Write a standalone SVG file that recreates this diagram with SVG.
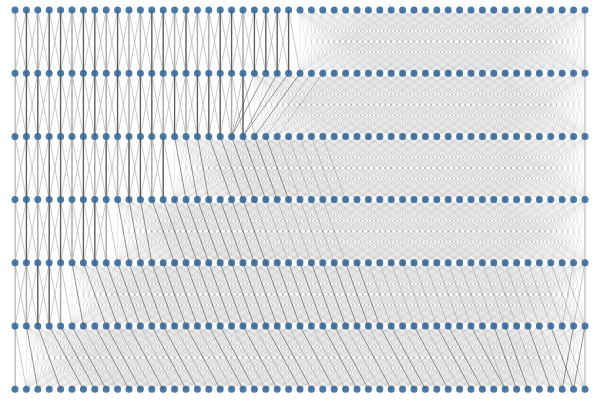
<svg xmlns="http://www.w3.org/2000/svg" width="600" height="400" viewBox="0 0 600 400">
<style>
.lt{fill:none;stroke:#888;stroke-opacity:.28;stroke-width:.6}
.sd{fill:none;stroke:#bbb;stroke-width:.8}
.sv{fill:none;stroke:#aaa;stroke-width:1.5}
.dv{fill:none;stroke:#555;stroke-width:1}
.dk{fill:none;stroke:#333;stroke-opacity:.6;stroke-width:.8}
.md{fill:none;stroke:#555;stroke-opacity:.35;stroke-width:.7}
.ev{fill:none;stroke:#ccc;stroke-width:1.5}
.nodes circle{fill:#33689a;fill-opacity:.88}
</style>
<defs>
<clipPath id="c5"><rect x="14.5" y="0" width="571" height="400"/></clipPath>
<path id="fp" class="lt" d="M0 0V63.2M0 0L11.4 63.2M0 0L22.8 63.2M0 0L34.2 63.2M0 0L45.6 63.2M0 0L57 63.2M0 0L68.4 63.2M0 0L79.8 63.2M0 0L91.2 63.2"/>
<path id="n1" class="lt" d="M0 0L-11.4 63.2"/>
<path id="n2" class="lt" d="M0 0L-11.4 63.2M0 0L-22.8 63.2"/>
<path id="n3" class="lt" d="M0 0L-11.4 63.2M0 0L-22.8 63.2M0 0L-34.2 63.2"/>
<path id="n4" class="lt" d="M0 0L-11.4 63.2M0 0L-22.8 63.2M0 0L-34.2 63.2M0 0L-45.6 63.2"/>
<path id="n5" class="lt" d="M0 0L-11.4 63.2M0 0L-22.8 63.2M0 0L-34.2 63.2M0 0L-45.6 63.2M0 0L-57 63.2"/>
<path id="n6" class="lt" d="M0 0L-11.4 63.2M0 0L-22.8 63.2M0 0L-34.2 63.2M0 0L-45.6 63.2M0 0L-57 63.2M0 0L-68.4 63.2"/>
<path id="n7" class="lt" d="M0 0L-11.4 63.2M0 0L-22.8 63.2M0 0L-34.2 63.2M0 0L-45.6 63.2M0 0L-57 63.2M0 0L-68.4 63.2M0 0L-79.8 63.2"/>
<path id="n8" class="lt" d="M0 0L-11.4 63.2M0 0L-22.8 63.2M0 0L-34.2 63.2M0 0L-45.6 63.2M0 0L-57 63.2M0 0L-68.4 63.2M0 0L-79.8 63.2M0 0L-91.2 63.2"/>
<g id="f"><use href="#fp"/><use href="#n8"/></g>
<g id="f5"><use href="#f"/><use href="#f" x="11.4"/><use href="#f" x="22.8"/><use href="#f" x="34.2"/><use href="#f" x="45.6"/></g>
<g id="f10"><use href="#f5"/><use href="#f5" x="57"/></g>
<g id="B"><use href="#fp"/><use href="#fp" x="11.4"/><use href="#n1" x="11.4"/><use href="#fp" x="22.8"/><use href="#n2" x="22.8"/><use href="#fp" x="34.2"/><use href="#n3" x="34.2"/><use href="#fp" x="45.6"/><use href="#n4" x="45.6"/><use href="#fp" x="57"/><use href="#n5" x="57"/><use href="#fp" x="68.4"/><use href="#n6" x="68.4"/><use href="#fp" x="79.8"/><use href="#n7" x="79.8"/></g>
<g id="s"><path class="sd" d="M0 0L-11.4 63.2M0 0L11.4 63.2"/><path class="sv" d="M0 0V63.2"/></g>
<g id="s5"><use href="#s"/><use href="#s" x="11.4"/><use href="#s" x="22.8"/><use href="#s" x="34.2"/><use href="#s" x="45.6"/></g>
<g id="s10"><use href="#s5"/><use href="#s5" x="57"/></g>
</defs>
<rect width="600" height="400" fill="#fff"/>
<g id="connectors">
<g id="sparse" clip-path="url(#c5)">
<use href="#s10" x="15" y="10"/><use href="#s10" x="129" y="10"/><use href="#s5" x="243" y="10"/>
<use href="#s10" x="15" y="73.2"/><use href="#s10" x="129" y="73.2"/><use href="#s" x="243" y="73.2"/>
<use href="#s10" x="15" y="136.4"/><use href="#s" x="129" y="136.4"/><use href="#s" x="140.4" y="136.4"/><use href="#s" x="151.8" y="136.4"/><use href="#s" x="163.2" y="136.4"/>
<use href="#s5" x="15" y="199.6"/><use href="#s" x="72" y="199.6"/><use href="#s" x="83.4" y="199.6"/><use href="#s" x="94.8" y="199.6"/><use href="#s" x="106.2" y="199.6"/>
<use href="#s5" x="15" y="262.8"/>
<use href="#s" x="15" y="326"/>
</g>
<path class="dv" d="M26.4 10V73.2M49.2 10V73.2M60.6 10V73.2M83.4 10V73.2M94.8 10V73.2M117.6 10V73.2M151.8 10V73.2M163.2 10V73.2M186 10V73.2M220.2 10V73.2M231.6 10V73.2M254.4 10V73.2M265.8 10V73.2M277.2 10V73.2M288.6 10V73.2M26.4 73.2V136.4M37.8 73.2V136.4M60.6 73.2V136.4M83.4 73.2V136.4M94.8 73.2V136.4M117.6 73.2V136.4M140.4 73.2V136.4M151.8 73.2V136.4M174.6 73.2V136.4M197.4 73.2V136.4M208.8 73.2V136.4M220.2 73.2V136.4M243 73.2V136.4M26.4 136.4V199.6M49.2 136.4V199.6M60.6 136.4V199.6M83.4 136.4V199.6M106.2 136.4V199.6M129 136.4V199.6M140.4 136.4V199.6M163.2 136.4V199.6M26.4 199.6V262.8M49.2 199.6V262.8M60.6 199.6V262.8M83.4 199.6V262.8M94.8 199.6V262.8M37.8 262.8V326M49.2 262.8V326"/>
<g id="dense0"><use href="#B" x="300" y="10"/><use href="#f10" x="391.2" y="10"/><use href="#B" transform="translate(585 10) scale(-1 1)"/></g>
<g id="dense1"><use href="#B" x="254.4" y="73.2"/><use href="#f10" x="345.6" y="73.2"/><use href="#f" x="459.6" y="73.2"/><use href="#f" x="471" y="73.2"/><use href="#f" x="482.4" y="73.2"/><use href="#f" x="493.8" y="73.2"/><use href="#B" transform="translate(585 73.2) scale(-1 1)"/></g>
<g id="dense2"><use href="#B" x="174.6" y="136.4"/><use href="#f10" x="265.8" y="136.4"/><use href="#f10" x="379.8" y="136.4"/><use href="#f" x="493.8" y="136.4"/><use href="#B" transform="translate(585 136.4) scale(-1 1)"/></g>
<g id="dense3"><use href="#B" x="117.6" y="199.6"/><use href="#f10" x="208.8" y="199.6"/><use href="#f10" x="322.8" y="199.6"/><use href="#f5" x="436.8" y="199.6"/><use href="#f" x="493.8" y="199.6"/><use href="#B" transform="translate(585 199.6) scale(-1 1)"/></g>
<g id="dense4"><use href="#B" x="72" y="262.8"/><use href="#f10" x="163.2" y="262.8"/><use href="#f10" x="277.2" y="262.8"/><use href="#f10" x="391.2" y="262.8"/><use href="#B" transform="translate(585 262.8) scale(-1 1)"/></g>
<g id="dense5"><use href="#B" x="26.4" y="326"/><use href="#f10" x="117.6" y="326"/><use href="#f10" x="231.6" y="326"/><use href="#f10" x="345.6" y="326"/><use href="#f" x="459.6" y="326"/><use href="#f" x="471" y="326"/><use href="#f" x="482.4" y="326"/><use href="#f" x="493.8" y="326"/><use href="#B" transform="translate(585 326) scale(-1 1)"/></g>
<path class="ev" d="M585 10V389.2"/>
<path class="dk" d="M254.4 73.2L231.6 136.4M265.8 73.2L231.6 136.4M277.2 73.2L243 136.4M288.6 73.2L243 136.4M300 73.2L254.4 136.4"/>
<path class="md" d="M311.4 73.2L265.8 136.4M322.8 73.2L277.2 136.4"/>
<path class="dk" d="M174.6 136.4l11.4 63.2M186 136.4l11.4 63.2M197.4 136.4l11.4 63.2M208.8 136.4l22.8 63.2M220.2 136.4l22.8 63.2M231.6 136.4l22.8 63.2M243 136.4l22.8 63.2M254.4 136.4l22.8 63.2M265.8 136.4l22.8 63.2"/>
<path class="md" d="M277.2 136.4l22.8 63.2M288.6 136.4l22.8 63.2M300 136.4l22.8 63.2M311.4 136.4l22.8 63.2M322.8 136.4l22.8 63.2"/>
<path class="dk" d="M117.6 199.6l11.4 63.2M129 199.6l11.4 63.2M140.4 199.6l11.4 63.2M151.8 199.6l22.8 63.2M163.2 199.6l22.8 63.2M174.6 199.6l22.8 63.2M186 199.6l22.8 63.2M197.4 199.6l22.8 63.2M208.8 199.6l22.8 63.2M220.2 199.6l22.8 63.2M231.6 199.6l22.8 63.2M243 199.6l22.8 63.2"/>
<path class="md" d="M254.4 199.6l22.8 63.2M265.8 199.6l22.8 63.2M277.2 199.6l22.8 63.2M288.6 199.6l22.8 63.2M300 199.6l22.8 63.2M311.4 199.6l22.8 63.2M322.8 199.6l22.8 63.2"/>
<path class="dk" d="M72 262.8l11.4 63.2M83.4 262.8l22.8 63.2M94.8 262.8l22.8 63.2M106.2 262.8l22.8 63.2M117.6 262.8l22.8 63.2M129 262.8l22.8 63.2M140.4 262.8l22.8 63.2M151.8 262.8l22.8 63.2M163.2 262.8l22.8 63.2M174.6 262.8l22.8 63.2M186 262.8l22.8 63.2M197.4 262.8l22.8 63.2M208.8 262.8l22.8 63.2M220.2 262.8l22.8 63.2M231.6 262.8l22.8 63.2M243 262.8l22.8 63.2M254.4 262.8l22.8 63.2M265.8 262.8l22.8 63.2M277.2 262.8l22.8 63.2M288.6 262.8l22.8 63.2M300 262.8l22.8 63.2M311.4 262.8l22.8 63.2M322.8 262.8l22.8 63.2M334.2 262.8l22.8 63.2M345.6 262.8l22.8 63.2M357 262.8l22.8 63.2"/>
<path class="md" d="M368.4 262.8l22.8 63.2M379.8 262.8l22.8 63.2M391.2 262.8l22.8 63.2M402.6 262.8l22.8 63.2M414 262.8l22.8 63.2M425.4 262.8l22.8 63.2M436.8 262.8l22.8 63.2M448.2 262.8l22.8 63.2M459.6 262.8l22.8 63.2M471 262.8l22.8 63.2M482.4 262.8l22.8 63.2M493.8 262.8l22.8 63.2M505.2 262.8l22.8 63.2M516.6 262.8l22.8 63.2M528 262.8l22.8 63.2M539.4 262.8l22.8 63.2M550.8 262.8l22.8 63.2M562.2 262.8l22.8 63.2M573.6 262.8l-11.4 63.2M585 262.8l-11.4 63.2"/>
<path class="dk" d="M26.4 326l11.4 63.2M37.8 326l22.8 63.2M49.2 326l34.2 63.2M60.6 326l34.2 63.2M72 326l34.2 63.2M94.8 326l34.2 63.2M106.2 326l34.2 63.2M129 326l34.2 63.2M151.8 326l34.2 63.2M163.2 326l34.2 63.2M186 326l34.2 63.2M208.8 326l34.2 63.2M220.2 326l34.2 63.2M243 326l34.2 63.2M265.8 326l34.2 63.2M277.2 326l34.2 63.2M300 326l34.2 63.2M322.8 326l34.2 63.2M334.2 326l34.2 63.2M357 326l34.2 63.2M379.8 326l34.2 63.2M391.2 326l34.2 63.2M414 326l34.2 63.2M436.8 326l34.2 63.2M448.2 326l34.2 63.2M471 326l34.2 63.2M493.8 326l22.8 63.2M505.2 326l22.8 63.2M528 326l22.8 63.2M550.8 326l22.8 63.2M573.6 326l-11.4 63.2M585 326l-11.4 63.2"/>
<path class="md" d="M83.4 326l34.2 63.2M117.6 326l34.2 63.2M140.4 326l34.2 63.2M174.6 326l34.2 63.2M197.4 326l34.2 63.2M231.6 326l34.2 63.2M254.4 326l34.2 63.2M288.6 326l34.2 63.2M311.4 326l34.2 63.2M345.6 326l34.2 63.2M368.4 326l34.2 63.2M402.6 326l34.2 63.2M425.4 326l34.2 63.2M459.6 326l34.2 63.2M482.4 326l22.8 63.2M516.6 326l22.8 63.2M539.4 326l22.8 63.2M562.2 326l22.8 63.2"/>
</g>
<g class="nodes">
<g id="row0" transform="translate(0 10)"><g id="n0-0"><circle cx="15" r="3.5"/></g><g id="n0-1"><circle cx="26.4" r="3.5"/></g><g id="n0-2"><circle cx="37.8" r="3.5"/></g><g id="n0-3"><circle cx="49.2" r="3.5"/></g><g id="n0-4"><circle cx="60.6" r="3.5"/></g><g id="n0-5"><circle cx="72" r="3.5"/></g><g id="n0-6"><circle cx="83.4" r="3.5"/></g><g id="n0-7"><circle cx="94.8" r="3.5"/></g><g id="n0-8"><circle cx="106.2" r="3.5"/></g><g id="n0-9"><circle cx="117.6" r="3.5"/></g><g id="n0-10"><circle cx="129" r="3.5"/></g><g id="n0-11"><circle cx="140.4" r="3.5"/></g><g id="n0-12"><circle cx="151.8" r="3.5"/></g><g id="n0-13"><circle cx="163.2" r="3.5"/></g><g id="n0-14"><circle cx="174.6" r="3.5"/></g><g id="n0-15"><circle cx="186" r="3.5"/></g><g id="n0-16"><circle cx="197.4" r="3.5"/></g><g id="n0-17"><circle cx="208.8" r="3.5"/></g><g id="n0-18"><circle cx="220.2" r="3.5"/></g><g id="n0-19"><circle cx="231.6" r="3.5"/></g><g id="n0-20"><circle cx="243" r="3.5"/></g><g id="n0-21"><circle cx="254.4" r="3.5"/></g><g id="n0-22"><circle cx="265.8" r="3.5"/></g><g id="n0-23"><circle cx="277.2" r="3.5"/></g><g id="n0-24"><circle cx="288.6" r="3.5"/></g><g id="n0-25"><circle cx="300" r="3.5"/></g><g id="n0-26"><circle cx="311.4" r="3.5"/></g><g id="n0-27"><circle cx="322.8" r="3.5"/></g><g id="n0-28"><circle cx="334.2" r="3.5"/></g><g id="n0-29"><circle cx="345.6" r="3.5"/></g><g id="n0-30"><circle cx="357" r="3.5"/></g><g id="n0-31"><circle cx="368.4" r="3.5"/></g><g id="n0-32"><circle cx="379.8" r="3.5"/></g><g id="n0-33"><circle cx="391.2" r="3.5"/></g><g id="n0-34"><circle cx="402.6" r="3.5"/></g><g id="n0-35"><circle cx="414" r="3.5"/></g><g id="n0-36"><circle cx="425.4" r="3.5"/></g><g id="n0-37"><circle cx="436.8" r="3.5"/></g><g id="n0-38"><circle cx="448.2" r="3.5"/></g><g id="n0-39"><circle cx="459.6" r="3.5"/></g><g id="n0-40"><circle cx="471" r="3.5"/></g><g id="n0-41"><circle cx="482.4" r="3.5"/></g><g id="n0-42"><circle cx="493.8" r="3.5"/></g><g id="n0-43"><circle cx="505.2" r="3.5"/></g><g id="n0-44"><circle cx="516.6" r="3.5"/></g><g id="n0-45"><circle cx="528" r="3.5"/></g><g id="n0-46"><circle cx="539.4" r="3.5"/></g><g id="n0-47"><circle cx="550.8" r="3.5"/></g><g id="n0-48"><circle cx="562.2" r="3.5"/></g><g id="n0-49"><circle cx="573.6" r="3.5"/></g><g id="n0-50"><circle cx="585" r="3.5"/></g></g>
<g id="row1" transform="translate(0 73.2)"><g id="n1-0"><circle cx="15" r="3.5"/></g><g id="n1-1"><circle cx="26.4" r="3.5"/></g><g id="n1-2"><circle cx="37.8" r="3.5"/></g><g id="n1-3"><circle cx="49.2" r="3.5"/></g><g id="n1-4"><circle cx="60.6" r="3.5"/></g><g id="n1-5"><circle cx="72" r="3.5"/></g><g id="n1-6"><circle cx="83.4" r="3.5"/></g><g id="n1-7"><circle cx="94.8" r="3.5"/></g><g id="n1-8"><circle cx="106.2" r="3.5"/></g><g id="n1-9"><circle cx="117.6" r="3.5"/></g><g id="n1-10"><circle cx="129" r="3.5"/></g><g id="n1-11"><circle cx="140.4" r="3.5"/></g><g id="n1-12"><circle cx="151.8" r="3.5"/></g><g id="n1-13"><circle cx="163.2" r="3.5"/></g><g id="n1-14"><circle cx="174.6" r="3.5"/></g><g id="n1-15"><circle cx="186" r="3.5"/></g><g id="n1-16"><circle cx="197.4" r="3.5"/></g><g id="n1-17"><circle cx="208.8" r="3.5"/></g><g id="n1-18"><circle cx="220.2" r="3.5"/></g><g id="n1-19"><circle cx="231.6" r="3.5"/></g><g id="n1-20"><circle cx="243" r="3.5"/></g><g id="n1-21"><circle cx="254.4" r="3.5"/></g><g id="n1-22"><circle cx="265.8" r="3.5"/></g><g id="n1-23"><circle cx="277.2" r="3.5"/></g><g id="n1-24"><circle cx="288.6" r="3.5"/></g><g id="n1-25"><circle cx="300" r="3.5"/></g><g id="n1-26"><circle cx="311.4" r="3.5"/></g><g id="n1-27"><circle cx="322.8" r="3.5"/></g><g id="n1-28"><circle cx="334.2" r="3.5"/></g><g id="n1-29"><circle cx="345.6" r="3.5"/></g><g id="n1-30"><circle cx="357" r="3.5"/></g><g id="n1-31"><circle cx="368.4" r="3.5"/></g><g id="n1-32"><circle cx="379.8" r="3.5"/></g><g id="n1-33"><circle cx="391.2" r="3.5"/></g><g id="n1-34"><circle cx="402.6" r="3.5"/></g><g id="n1-35"><circle cx="414" r="3.5"/></g><g id="n1-36"><circle cx="425.4" r="3.5"/></g><g id="n1-37"><circle cx="436.8" r="3.5"/></g><g id="n1-38"><circle cx="448.2" r="3.5"/></g><g id="n1-39"><circle cx="459.6" r="3.5"/></g><g id="n1-40"><circle cx="471" r="3.5"/></g><g id="n1-41"><circle cx="482.4" r="3.5"/></g><g id="n1-42"><circle cx="493.8" r="3.5"/></g><g id="n1-43"><circle cx="505.2" r="3.5"/></g><g id="n1-44"><circle cx="516.6" r="3.5"/></g><g id="n1-45"><circle cx="528" r="3.5"/></g><g id="n1-46"><circle cx="539.4" r="3.5"/></g><g id="n1-47"><circle cx="550.8" r="3.5"/></g><g id="n1-48"><circle cx="562.2" r="3.5"/></g><g id="n1-49"><circle cx="573.6" r="3.5"/></g><g id="n1-50"><circle cx="585" r="3.5"/></g></g>
<g id="row2" transform="translate(0 136.4)"><g id="n2-0"><circle cx="15" r="3.5"/></g><g id="n2-1"><circle cx="26.4" r="3.5"/></g><g id="n2-2"><circle cx="37.8" r="3.5"/></g><g id="n2-3"><circle cx="49.2" r="3.5"/></g><g id="n2-4"><circle cx="60.6" r="3.5"/></g><g id="n2-5"><circle cx="72" r="3.5"/></g><g id="n2-6"><circle cx="83.4" r="3.5"/></g><g id="n2-7"><circle cx="94.8" r="3.5"/></g><g id="n2-8"><circle cx="106.2" r="3.5"/></g><g id="n2-9"><circle cx="117.6" r="3.5"/></g><g id="n2-10"><circle cx="129" r="3.5"/></g><g id="n2-11"><circle cx="140.4" r="3.5"/></g><g id="n2-12"><circle cx="151.8" r="3.5"/></g><g id="n2-13"><circle cx="163.2" r="3.5"/></g><g id="n2-14"><circle cx="174.6" r="3.5"/></g><g id="n2-15"><circle cx="186" r="3.5"/></g><g id="n2-16"><circle cx="197.4" r="3.5"/></g><g id="n2-17"><circle cx="208.8" r="3.5"/></g><g id="n2-18"><circle cx="220.2" r="3.5"/></g><g id="n2-19"><circle cx="231.6" r="3.5"/></g><g id="n2-20"><circle cx="243" r="3.5"/></g><g id="n2-21"><circle cx="254.4" r="3.5"/></g><g id="n2-22"><circle cx="265.8" r="3.5"/></g><g id="n2-23"><circle cx="277.2" r="3.5"/></g><g id="n2-24"><circle cx="288.6" r="3.5"/></g><g id="n2-25"><circle cx="300" r="3.5"/></g><g id="n2-26"><circle cx="311.4" r="3.5"/></g><g id="n2-27"><circle cx="322.8" r="3.5"/></g><g id="n2-28"><circle cx="334.2" r="3.5"/></g><g id="n2-29"><circle cx="345.6" r="3.5"/></g><g id="n2-30"><circle cx="357" r="3.5"/></g><g id="n2-31"><circle cx="368.4" r="3.5"/></g><g id="n2-32"><circle cx="379.8" r="3.5"/></g><g id="n2-33"><circle cx="391.2" r="3.5"/></g><g id="n2-34"><circle cx="402.6" r="3.5"/></g><g id="n2-35"><circle cx="414" r="3.5"/></g><g id="n2-36"><circle cx="425.4" r="3.5"/></g><g id="n2-37"><circle cx="436.8" r="3.5"/></g><g id="n2-38"><circle cx="448.2" r="3.5"/></g><g id="n2-39"><circle cx="459.6" r="3.5"/></g><g id="n2-40"><circle cx="471" r="3.5"/></g><g id="n2-41"><circle cx="482.4" r="3.5"/></g><g id="n2-42"><circle cx="493.8" r="3.5"/></g><g id="n2-43"><circle cx="505.2" r="3.5"/></g><g id="n2-44"><circle cx="516.6" r="3.5"/></g><g id="n2-45"><circle cx="528" r="3.5"/></g><g id="n2-46"><circle cx="539.4" r="3.5"/></g><g id="n2-47"><circle cx="550.8" r="3.5"/></g><g id="n2-48"><circle cx="562.2" r="3.5"/></g><g id="n2-49"><circle cx="573.6" r="3.5"/></g><g id="n2-50"><circle cx="585" r="3.5"/></g></g>
<g id="row3" transform="translate(0 199.6)"><g id="n3-0"><circle cx="15" r="3.5"/></g><g id="n3-1"><circle cx="26.4" r="3.5"/></g><g id="n3-2"><circle cx="37.8" r="3.5"/></g><g id="n3-3"><circle cx="49.2" r="3.5"/></g><g id="n3-4"><circle cx="60.6" r="3.5"/></g><g id="n3-5"><circle cx="72" r="3.5"/></g><g id="n3-6"><circle cx="83.4" r="3.5"/></g><g id="n3-7"><circle cx="94.8" r="3.5"/></g><g id="n3-8"><circle cx="106.2" r="3.5"/></g><g id="n3-9"><circle cx="117.6" r="3.5"/></g><g id="n3-10"><circle cx="129" r="3.5"/></g><g id="n3-11"><circle cx="140.4" r="3.5"/></g><g id="n3-12"><circle cx="151.8" r="3.5"/></g><g id="n3-13"><circle cx="163.2" r="3.5"/></g><g id="n3-14"><circle cx="174.6" r="3.5"/></g><g id="n3-15"><circle cx="186" r="3.5"/></g><g id="n3-16"><circle cx="197.4" r="3.5"/></g><g id="n3-17"><circle cx="208.8" r="3.5"/></g><g id="n3-18"><circle cx="220.2" r="3.5"/></g><g id="n3-19"><circle cx="231.6" r="3.5"/></g><g id="n3-20"><circle cx="243" r="3.5"/></g><g id="n3-21"><circle cx="254.4" r="3.5"/></g><g id="n3-22"><circle cx="265.8" r="3.5"/></g><g id="n3-23"><circle cx="277.2" r="3.5"/></g><g id="n3-24"><circle cx="288.6" r="3.5"/></g><g id="n3-25"><circle cx="300" r="3.5"/></g><g id="n3-26"><circle cx="311.4" r="3.5"/></g><g id="n3-27"><circle cx="322.8" r="3.5"/></g><g id="n3-28"><circle cx="334.2" r="3.5"/></g><g id="n3-29"><circle cx="345.6" r="3.5"/></g><g id="n3-30"><circle cx="357" r="3.5"/></g><g id="n3-31"><circle cx="368.4" r="3.5"/></g><g id="n3-32"><circle cx="379.8" r="3.5"/></g><g id="n3-33"><circle cx="391.2" r="3.5"/></g><g id="n3-34"><circle cx="402.6" r="3.5"/></g><g id="n3-35"><circle cx="414" r="3.5"/></g><g id="n3-36"><circle cx="425.4" r="3.5"/></g><g id="n3-37"><circle cx="436.8" r="3.5"/></g><g id="n3-38"><circle cx="448.2" r="3.5"/></g><g id="n3-39"><circle cx="459.6" r="3.5"/></g><g id="n3-40"><circle cx="471" r="3.5"/></g><g id="n3-41"><circle cx="482.4" r="3.5"/></g><g id="n3-42"><circle cx="493.8" r="3.5"/></g><g id="n3-43"><circle cx="505.2" r="3.5"/></g><g id="n3-44"><circle cx="516.6" r="3.5"/></g><g id="n3-45"><circle cx="528" r="3.5"/></g><g id="n3-46"><circle cx="539.4" r="3.5"/></g><g id="n3-47"><circle cx="550.8" r="3.5"/></g><g id="n3-48"><circle cx="562.2" r="3.5"/></g><g id="n3-49"><circle cx="573.6" r="3.5"/></g><g id="n3-50"><circle cx="585" r="3.5"/></g></g>
<g id="row4" transform="translate(0 262.8)"><g id="n4-0"><circle cx="15" r="3.5"/></g><g id="n4-1"><circle cx="26.4" r="3.5"/></g><g id="n4-2"><circle cx="37.8" r="3.5"/></g><g id="n4-3"><circle cx="49.2" r="3.5"/></g><g id="n4-4"><circle cx="60.6" r="3.5"/></g><g id="n4-5"><circle cx="72" r="3.5"/></g><g id="n4-6"><circle cx="83.4" r="3.5"/></g><g id="n4-7"><circle cx="94.8" r="3.5"/></g><g id="n4-8"><circle cx="106.2" r="3.5"/></g><g id="n4-9"><circle cx="117.6" r="3.5"/></g><g id="n4-10"><circle cx="129" r="3.5"/></g><g id="n4-11"><circle cx="140.4" r="3.5"/></g><g id="n4-12"><circle cx="151.8" r="3.5"/></g><g id="n4-13"><circle cx="163.2" r="3.5"/></g><g id="n4-14"><circle cx="174.6" r="3.5"/></g><g id="n4-15"><circle cx="186" r="3.5"/></g><g id="n4-16"><circle cx="197.4" r="3.5"/></g><g id="n4-17"><circle cx="208.8" r="3.5"/></g><g id="n4-18"><circle cx="220.2" r="3.5"/></g><g id="n4-19"><circle cx="231.6" r="3.5"/></g><g id="n4-20"><circle cx="243" r="3.5"/></g><g id="n4-21"><circle cx="254.4" r="3.5"/></g><g id="n4-22"><circle cx="265.8" r="3.5"/></g><g id="n4-23"><circle cx="277.2" r="3.5"/></g><g id="n4-24"><circle cx="288.6" r="3.5"/></g><g id="n4-25"><circle cx="300" r="3.5"/></g><g id="n4-26"><circle cx="311.4" r="3.5"/></g><g id="n4-27"><circle cx="322.8" r="3.5"/></g><g id="n4-28"><circle cx="334.2" r="3.5"/></g><g id="n4-29"><circle cx="345.6" r="3.5"/></g><g id="n4-30"><circle cx="357" r="3.5"/></g><g id="n4-31"><circle cx="368.4" r="3.5"/></g><g id="n4-32"><circle cx="379.8" r="3.5"/></g><g id="n4-33"><circle cx="391.2" r="3.5"/></g><g id="n4-34"><circle cx="402.6" r="3.5"/></g><g id="n4-35"><circle cx="414" r="3.5"/></g><g id="n4-36"><circle cx="425.4" r="3.5"/></g><g id="n4-37"><circle cx="436.8" r="3.5"/></g><g id="n4-38"><circle cx="448.2" r="3.5"/></g><g id="n4-39"><circle cx="459.6" r="3.5"/></g><g id="n4-40"><circle cx="471" r="3.5"/></g><g id="n4-41"><circle cx="482.4" r="3.5"/></g><g id="n4-42"><circle cx="493.8" r="3.5"/></g><g id="n4-43"><circle cx="505.2" r="3.5"/></g><g id="n4-44"><circle cx="516.6" r="3.5"/></g><g id="n4-45"><circle cx="528" r="3.5"/></g><g id="n4-46"><circle cx="539.4" r="3.5"/></g><g id="n4-47"><circle cx="550.8" r="3.5"/></g><g id="n4-48"><circle cx="562.2" r="3.5"/></g><g id="n4-49"><circle cx="573.6" r="3.5"/></g><g id="n4-50"><circle cx="585" r="3.5"/></g></g>
<g id="row5" transform="translate(0 326)"><g id="n5-0"><circle cx="15" r="3.5"/></g><g id="n5-1"><circle cx="26.4" r="3.5"/></g><g id="n5-2"><circle cx="37.8" r="3.5"/></g><g id="n5-3"><circle cx="49.2" r="3.5"/></g><g id="n5-4"><circle cx="60.6" r="3.5"/></g><g id="n5-5"><circle cx="72" r="3.5"/></g><g id="n5-6"><circle cx="83.4" r="3.5"/></g><g id="n5-7"><circle cx="94.8" r="3.5"/></g><g id="n5-8"><circle cx="106.2" r="3.5"/></g><g id="n5-9"><circle cx="117.6" r="3.5"/></g><g id="n5-10"><circle cx="129" r="3.5"/></g><g id="n5-11"><circle cx="140.4" r="3.5"/></g><g id="n5-12"><circle cx="151.8" r="3.5"/></g><g id="n5-13"><circle cx="163.2" r="3.5"/></g><g id="n5-14"><circle cx="174.6" r="3.5"/></g><g id="n5-15"><circle cx="186" r="3.5"/></g><g id="n5-16"><circle cx="197.4" r="3.5"/></g><g id="n5-17"><circle cx="208.8" r="3.5"/></g><g id="n5-18"><circle cx="220.2" r="3.5"/></g><g id="n5-19"><circle cx="231.6" r="3.5"/></g><g id="n5-20"><circle cx="243" r="3.5"/></g><g id="n5-21"><circle cx="254.4" r="3.5"/></g><g id="n5-22"><circle cx="265.8" r="3.5"/></g><g id="n5-23"><circle cx="277.2" r="3.5"/></g><g id="n5-24"><circle cx="288.6" r="3.5"/></g><g id="n5-25"><circle cx="300" r="3.5"/></g><g id="n5-26"><circle cx="311.4" r="3.5"/></g><g id="n5-27"><circle cx="322.8" r="3.5"/></g><g id="n5-28"><circle cx="334.2" r="3.5"/></g><g id="n5-29"><circle cx="345.6" r="3.5"/></g><g id="n5-30"><circle cx="357" r="3.5"/></g><g id="n5-31"><circle cx="368.4" r="3.5"/></g><g id="n5-32"><circle cx="379.8" r="3.5"/></g><g id="n5-33"><circle cx="391.2" r="3.5"/></g><g id="n5-34"><circle cx="402.6" r="3.5"/></g><g id="n5-35"><circle cx="414" r="3.5"/></g><g id="n5-36"><circle cx="425.4" r="3.5"/></g><g id="n5-37"><circle cx="436.8" r="3.5"/></g><g id="n5-38"><circle cx="448.2" r="3.5"/></g><g id="n5-39"><circle cx="459.6" r="3.5"/></g><g id="n5-40"><circle cx="471" r="3.5"/></g><g id="n5-41"><circle cx="482.4" r="3.5"/></g><g id="n5-42"><circle cx="493.8" r="3.5"/></g><g id="n5-43"><circle cx="505.2" r="3.5"/></g><g id="n5-44"><circle cx="516.6" r="3.5"/></g><g id="n5-45"><circle cx="528" r="3.5"/></g><g id="n5-46"><circle cx="539.4" r="3.5"/></g><g id="n5-47"><circle cx="550.8" r="3.5"/></g><g id="n5-48"><circle cx="562.2" r="3.5"/></g><g id="n5-49"><circle cx="573.6" r="3.5"/></g><g id="n5-50"><circle cx="585" r="3.5"/></g></g>
<g id="row6" transform="translate(0 389.2)"><g id="n6-0"><circle cx="15" r="3.5"/></g><g id="n6-1"><circle cx="26.4" r="3.5"/></g><g id="n6-2"><circle cx="37.8" r="3.5"/></g><g id="n6-3"><circle cx="49.2" r="3.5"/></g><g id="n6-4"><circle cx="60.6" r="3.5"/></g><g id="n6-5"><circle cx="72" r="3.5"/></g><g id="n6-6"><circle cx="83.4" r="3.5"/></g><g id="n6-7"><circle cx="94.8" r="3.5"/></g><g id="n6-8"><circle cx="106.2" r="3.5"/></g><g id="n6-9"><circle cx="117.6" r="3.5"/></g><g id="n6-10"><circle cx="129" r="3.5"/></g><g id="n6-11"><circle cx="140.4" r="3.5"/></g><g id="n6-12"><circle cx="151.8" r="3.5"/></g><g id="n6-13"><circle cx="163.2" r="3.5"/></g><g id="n6-14"><circle cx="174.6" r="3.5"/></g><g id="n6-15"><circle cx="186" r="3.5"/></g><g id="n6-16"><circle cx="197.4" r="3.5"/></g><g id="n6-17"><circle cx="208.8" r="3.5"/></g><g id="n6-18"><circle cx="220.2" r="3.5"/></g><g id="n6-19"><circle cx="231.6" r="3.5"/></g><g id="n6-20"><circle cx="243" r="3.5"/></g><g id="n6-21"><circle cx="254.4" r="3.5"/></g><g id="n6-22"><circle cx="265.8" r="3.5"/></g><g id="n6-23"><circle cx="277.2" r="3.5"/></g><g id="n6-24"><circle cx="288.6" r="3.5"/></g><g id="n6-25"><circle cx="300" r="3.5"/></g><g id="n6-26"><circle cx="311.4" r="3.5"/></g><g id="n6-27"><circle cx="322.8" r="3.5"/></g><g id="n6-28"><circle cx="334.2" r="3.5"/></g><g id="n6-29"><circle cx="345.6" r="3.5"/></g><g id="n6-30"><circle cx="357" r="3.5"/></g><g id="n6-31"><circle cx="368.4" r="3.5"/></g><g id="n6-32"><circle cx="379.8" r="3.5"/></g><g id="n6-33"><circle cx="391.2" r="3.5"/></g><g id="n6-34"><circle cx="402.6" r="3.5"/></g><g id="n6-35"><circle cx="414" r="3.5"/></g><g id="n6-36"><circle cx="425.4" r="3.5"/></g><g id="n6-37"><circle cx="436.8" r="3.5"/></g><g id="n6-38"><circle cx="448.2" r="3.5"/></g><g id="n6-39"><circle cx="459.6" r="3.5"/></g><g id="n6-40"><circle cx="471" r="3.5"/></g><g id="n6-41"><circle cx="482.4" r="3.5"/></g><g id="n6-42"><circle cx="493.8" r="3.5"/></g><g id="n6-43"><circle cx="505.2" r="3.5"/></g><g id="n6-44"><circle cx="516.6" r="3.5"/></g><g id="n6-45"><circle cx="528" r="3.5"/></g><g id="n6-46"><circle cx="539.4" r="3.5"/></g><g id="n6-47"><circle cx="550.8" r="3.5"/></g><g id="n6-48"><circle cx="562.2" r="3.5"/></g><g id="n6-49"><circle cx="573.6" r="3.5"/></g><g id="n6-50"><circle cx="585" r="3.5"/></g></g>
</g>
</svg>
